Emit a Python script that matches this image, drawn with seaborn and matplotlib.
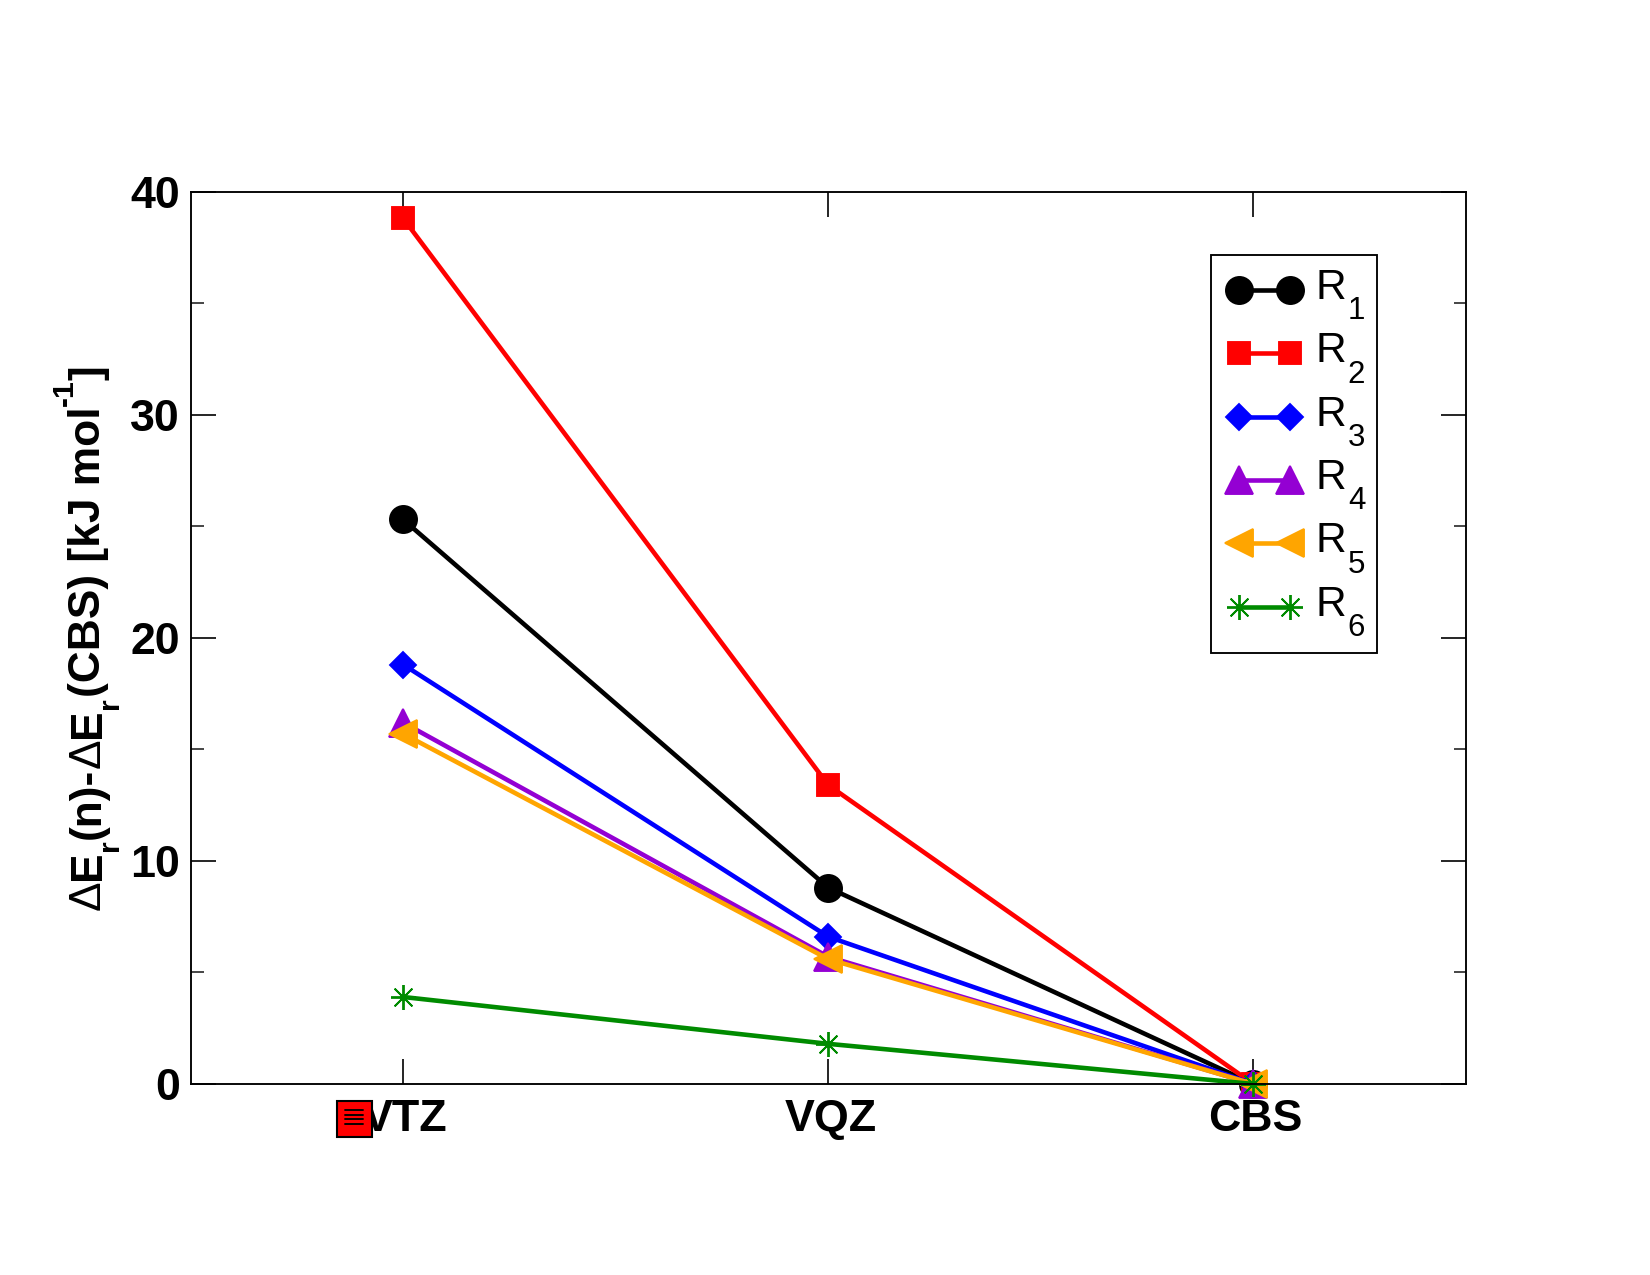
import matplotlib
matplotlib.use("Agg")
import matplotlib.pyplot as plt
from matplotlib.lines import Line2D
from matplotlib.patches import Rectangle
from matplotlib.ticker import MultipleLocator
from matplotlib.transforms import ScaledTranslation
import pandas as pd
import seaborn as sns

basis_labels = ["VTZ", "VQZ", "CBS"]
basis_positions = [1, 2, 3]
r1 = [25.3, 8.8, 0.0]
r2 = [38.8, 13.4, 0.0]
r3 = [18.8, 6.6, 0.0]
r4 = [16.2, 5.7, 0.0]
r5 = [15.7, 5.6, 0.0]
r6 = [3.9, 1.8, 0.0]
subscripts = ["1", "2", "3", "4", "5", "6"]

series = [
    (r1, "#000000", "o", 13),
    (r2, "#ff0000", "s", 11),
    (r3, "#0000ff", "D", 8.8),
    (r4, "#9400d3", "^", 13),
    (r5, "#ffa500", "<", 13),
    (r6, "#008b00", (8, 2, 0), 12),
]

# Axis title pieces: text, baseline shift in pixels, font size, weight
title_pieces = [
    ("\u0394", 0, 21.25, "normal"),
    ("E", 0, 21.25, "bold"),
    ("r", 18, 14.5, "bold"),
    ("(n)-", 0, 21.25, "bold"),
    ("\u0394", 0, 21.25, "normal"),
    ("E", 0, 21.25, "bold"),
    ("r", 18, 14.5, "bold"),
    ("(CBS) [kJ mol", 0, 21.25, "bold"),
    ("-1", -27, 14.5, "bold"),
    ("]", 0, 21.25, "bold"),
]

sns.set_theme(style="ticks")
plt.rcParams["font.family"] = ["Liberation Sans", "DejaVu Sans"]
plt.rcParams["text.color"] = "black"
plt.rcParams["axes.labelcolor"] = "black"

W, H = 1650, 1275
fig = plt.figure(figsize=(11, 8.5), dpi=150, facecolor="white")
ax = fig.add_axes([190.5 / W, 1 - 1084 / H, (1466 - 190.5) / W, (1084 - 191.5) / H])

for (values, color, marker, size), sub in zip(series, subscripts):
    frame = pd.DataFrame({"basis": basis_positions, "energy": values})
    sns.lineplot(
        data=frame, x="basis", y="energy", ax=ax, label="R\u200a ", color=color,
        marker=marker, markersize=size, markeredgecolor=color,
        markeredgewidth=0.9, linewidth=2.2, clip_on=False, errorbar=None,
    )

ax.set_xlim(0.5, 3.5)
ax.set_ylim(0, 40)
ax.set_xticks(basis_positions)
ax.set_xticklabels(basis_labels, fontsize=21.5, fontweight="bold", color="black")
ax.yaxis.set_major_locator(MultipleLocator(10))
ax.yaxis.set_minor_locator(MultipleLocator(5))
ax.tick_params(axis="both", which="major", direction="in", length=12, width=0.8,
               top=True, right=True, color="black", labelcolor="black")
ax.tick_params(axis="y", which="minor", direction="in", length=6, width=0.8, right=True)
ax.tick_params(axis="x", which="major", pad=7)
ax.tick_params(axis="y", which="major", pad=5)
for tick in ax.get_yticklabels():
    tick.set_fontsize(21.5)
    tick.set_fontweight("bold")
nudge = ScaledTranslation(1 / 72, 0, fig.dpi_scale_trans)
for tick in ax.get_xticklabels():
    tick.set_transform(tick.get_transform() + nudge)
for spine in ax.spines.values():
    spine.set_linewidth(0.9)
    spine.set_color("black")

ax.set_xlabel("")
ax.set_ylabel("")

# The axis title is set piece by piece so its sub- and superscripts sit low and high
renderer = fig.canvas.get_renderer()
title_y = 910.0
for text, shift, size, weight in title_pieces:
    piece = fig.text((100 + shift) / W, 1 - title_y / H, text, rotation=90,
                     rotation_mode="anchor", ha="left", va="baseline",
                     fontsize=size, fontweight=weight, color="black")
    title_y -= piece.get_window_extent(renderer).height

legend = ax.legend(
    loc="upper left", bbox_to_anchor=(1211 / W, 1 - 255 / H),
    bbox_transform=fig.transFigure, borderaxespad=0, numpoints=2, fontsize=20.4,
    handlelength=1.81, handleheight=1.48, handletextpad=0.3, borderpad=0.353,
    labelspacing=0.284, frameon=True, fancybox=False, framealpha=1, edgecolor="black",
)
legend.get_frame().set_linewidth(0.9)
for label_text, sub in zip(legend.get_texts(), subscripts):
    label_text.set_color("black")
    label_text.set_y(10.8)
    ax.annotate(sub, xy=(0, 0), xycoords=label_text, xytext=(15.4, -5.5),
                textcoords="offset points", fontsize=15, color="black",
                ha="left", va="baseline", annotation_clip=False, zorder=10)

# Small note icon sitting on the first basis label
fig.add_artist(Rectangle((336.5 / W, 1 - 1137 / H), 35 / W, 36 / H,
                         transform=fig.transFigure, facecolor="#ff0000",
                         edgecolor="black", linewidth=1.0, zorder=3))
for row in [1110, 1114.5, 1119, 1124]:
    fig.add_artist(Line2D([345 / W, 363 / W], [1 - row / H, 1 - row / H],
                          transform=fig.transFigure, color="black",
                          linewidth=0.9, zorder=4))

fig.savefig("out.png", dpi=150)
